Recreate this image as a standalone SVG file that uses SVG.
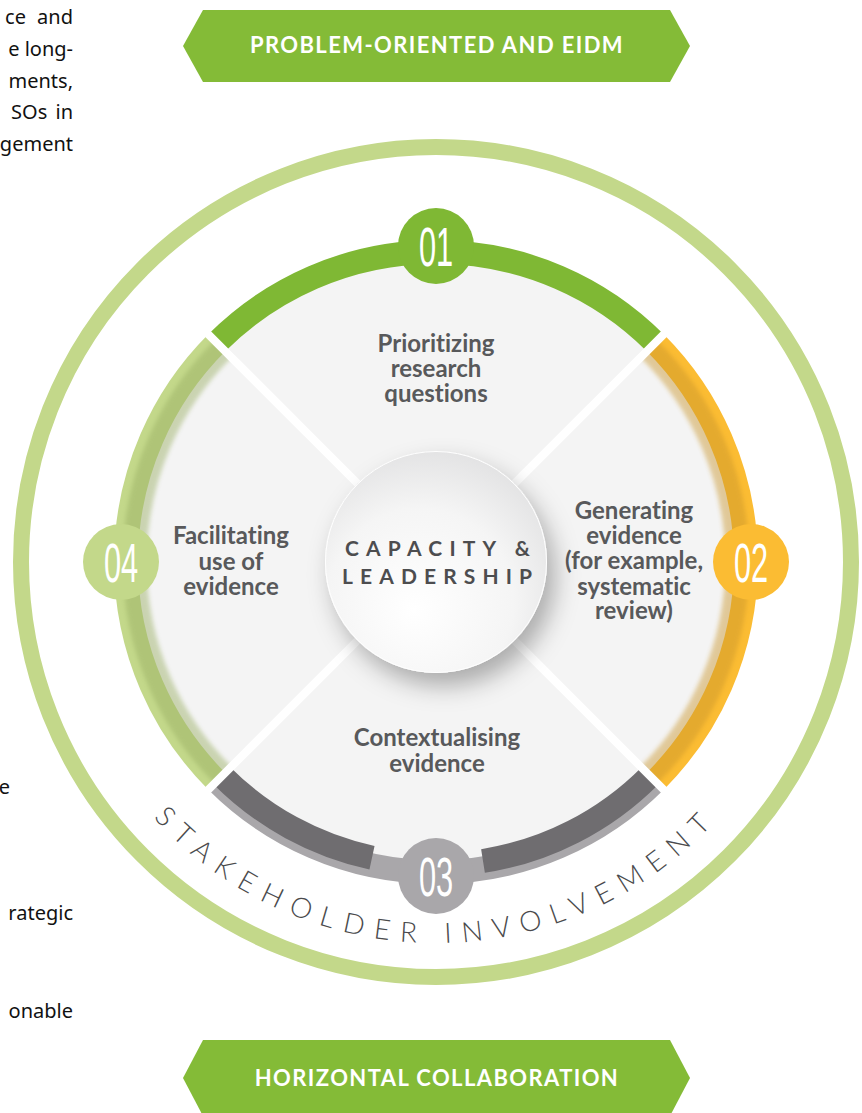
<svg xmlns="http://www.w3.org/2000/svg" width="862" height="1113" viewBox="0 0 862 1113">
<defs>
<style>
.side{font-family:"Noto Sans","Open Sans",sans-serif;font-size:20px;fill:#111;text-anchor:end}
.banner{fill:#84bb37}
.btxt{font-family:Lato,"Open Sans",sans-serif;font-weight:700;font-size:22px;letter-spacing:1.4px;fill:#fff;text-anchor:middle}
.lbl{font-family:Lato,"Open Sans",sans-serif;font-weight:700;font-size:24px;fill:#58595b;text-anchor:middle;font-variant-ligatures:none}
.num{font-family:"Liberation Sans",Arial,sans-serif;font-size:56px;fill:#fff;text-anchor:middle}
.core{font-family:Lato,"Open Sans",sans-serif;font-weight:700;font-size:21px;fill:#4d4d4f}
.band{fill:none;stroke-width:24}
.gap{stroke:#fff;stroke-width:8;stroke-linecap:butt}
</style>
<radialGradient id="coreGrad" cx="45%" cy="65%" r="70%" fx="40%" fy="72%">
<stop offset="0" stop-color="#ffffff"/>
<stop offset="0.6" stop-color="#f5f5f5"/>
<stop offset="1" stop-color="#e0e0e1"/>
</radialGradient>
<filter id="shadow" x="-40%" y="-40%" width="180%" height="180%">
<feDropShadow dx="8" dy="13" stdDeviation="12" flood-color="#000" flood-opacity="0.3"/>
</filter>
<filter id="blur" x="-20%" y="-20%" width="140%" height="140%">
<feGaussianBlur stdDeviation="2"/>
</filter>
<path id="stkPath" d="M 55 562 A 381 381 0 0 0 817 562"/>
</defs>
<rect width="862" height="1113" fill="#fff"/>

<g id="side-text">
<text class="side" x="73" y="24" word-spacing="6">ce and</text>
<text class="side" x="73" y="56">e long-</text>
<text class="side" x="73" y="88">ments,</text>
<text class="side" x="73" y="119" word-spacing="3">SOs in</text>
<text class="side" x="73" y="151">gement</text>
<text class="side" x="10" y="794">e</text>
<text class="side" x="73" y="920">rategic</text>
<text class="side" x="73" y="1018">onable</text>
</g>

<g id="banner-top">
<polygon class="banner" points="183,46 203,10 670,10 690,46 670,82 203,82"/>
<text class="btxt" x="437" y="53">PROBLEM-ORIENTED AND EIDM</text>
</g>

<g id="outer-ring">
<circle cx="436" cy="562" r="415" fill="none" stroke="#c3d88a" stroke-width="16"/>
</g>

<g id="disc">
<circle cx="436" cy="562" r="300" fill="#f4f4f4"/>
</g>

<g id="arcs">
<path id="arc01" class="band" stroke="#7fb834" d="M 216.8 342.8 A 310 310 0 0 1 655.2 342.8"/>
<path id="arc02" class="band" stroke="#fbbc33" d="M 655.2 342.8 A 310 310 0 0 1 655.2 781.2"/>
<path class="band" stroke="#c9952a" stroke-width="4" opacity="0.45" filter="url(#blur)" d="M 649 349 A 301 301 0 0 1 649 775"/>
<path id="arc03" class="band" stroke="#a9a7aa" d="M 655.2 781.2 A 310 310 0 0 1 216.8 781.2"/>
<path class="band" stroke="#6f6d70" stroke-width="9" d="M 649.9 775.9 A 302.5 302.5 0 0 1 483 861"/>
<path class="band" stroke="#6f6d70" stroke-width="9" d="M 372 857.7 A 302.5 302.5 0 0 1 222.1 775.9"/>
<path id="arc04" class="band" stroke="#c3d88a" d="M 216.8 781.2 A 310 310 0 0 1 216.8 342.8"/>
<path class="band" stroke="#98ad62" stroke-width="4" opacity="0.45" filter="url(#blur)" d="M 223 775 A 301 301 0 0 1 223 349"/>
</g>

<g id="connectors">
<line class="gap" x1="199.1" y1="325.1" x2="672.9" y2="798.9"/>
<line class="gap" x1="672.9" y1="325.1" x2="199.1" y2="798.9"/>
</g>

<g id="node-01">
<circle cx="436" cy="246" r="38" fill="#7fb834"/>
<text class="num" transform="translate(436,266) scale(0.55,1)">01</text>
<text class="lbl" x="436" y="352">Prioritizing</text>
<text class="lbl" x="436" y="377">research</text>
<text class="lbl" x="436" y="402">questions</text>
</g>

<g id="node-02">
<circle cx="751" cy="562" r="38" fill="#fbbc33"/>
<text class="num" transform="translate(751,582) scale(0.55,1)">02</text>
<text class="lbl" x="634" y="519">Generating</text>
<text class="lbl" x="634" y="544">evidence</text>
<text class="lbl" x="634" y="569">(for example,</text>
<text class="lbl" x="634" y="595">systematic</text>
<text class="lbl" x="634" y="619">review)</text>
</g>

<g id="node-03">
<circle cx="436" cy="876" r="38" fill="#a9a7aa"/>
<text class="num" transform="translate(436,896) scale(0.55,1)">03</text>
<text class="lbl" x="437" y="746">Contextualising</text>
<text class="lbl" x="437" y="772">evidence</text>
</g>

<g id="node-04">
<circle cx="121" cy="562" r="38" fill="#c3d88a"/>
<text class="num" transform="translate(121,582) scale(0.55,1)">04</text>
<text class="lbl" x="231" y="544">Facilitating</text>
<text class="lbl" x="231" y="570">use of</text>
<text class="lbl" x="231" y="595">evidence</text>
</g>

<g id="node-core">
<circle cx="436" cy="562" r="111" fill="url(#coreGrad)" filter="url(#shadow)"/>
<circle cx="436" cy="562" r="110.5" fill="none" stroke="#ffffff" stroke-width="1"/>
<text class="core" x="345" y="556" textLength="185" lengthAdjust="spacing">CAPACITY &amp;</text>
<text class="core" x="342" y="584" textLength="190" lengthAdjust="spacing">LEADERSHIP</text>
</g>

<g id="stakeholder">
<text font-family="Lato,'Open Sans',sans-serif" font-weight="300" font-size="28" fill="#4a4a4c" letter-spacing="10.5" text-anchor="middle"><textPath href="#stkPath" startOffset="50%">STAKEHOLDER INVOLVEMENT</textPath></text>
</g>

<g id="banner-bottom">
<polygon class="banner" points="183,1078 203,1040 670,1040 690,1078 670,1116 203,1116"/>
<text class="btxt" x="437" y="1086">HORIZONTAL COLLABORATION</text>
</g>
</svg>
